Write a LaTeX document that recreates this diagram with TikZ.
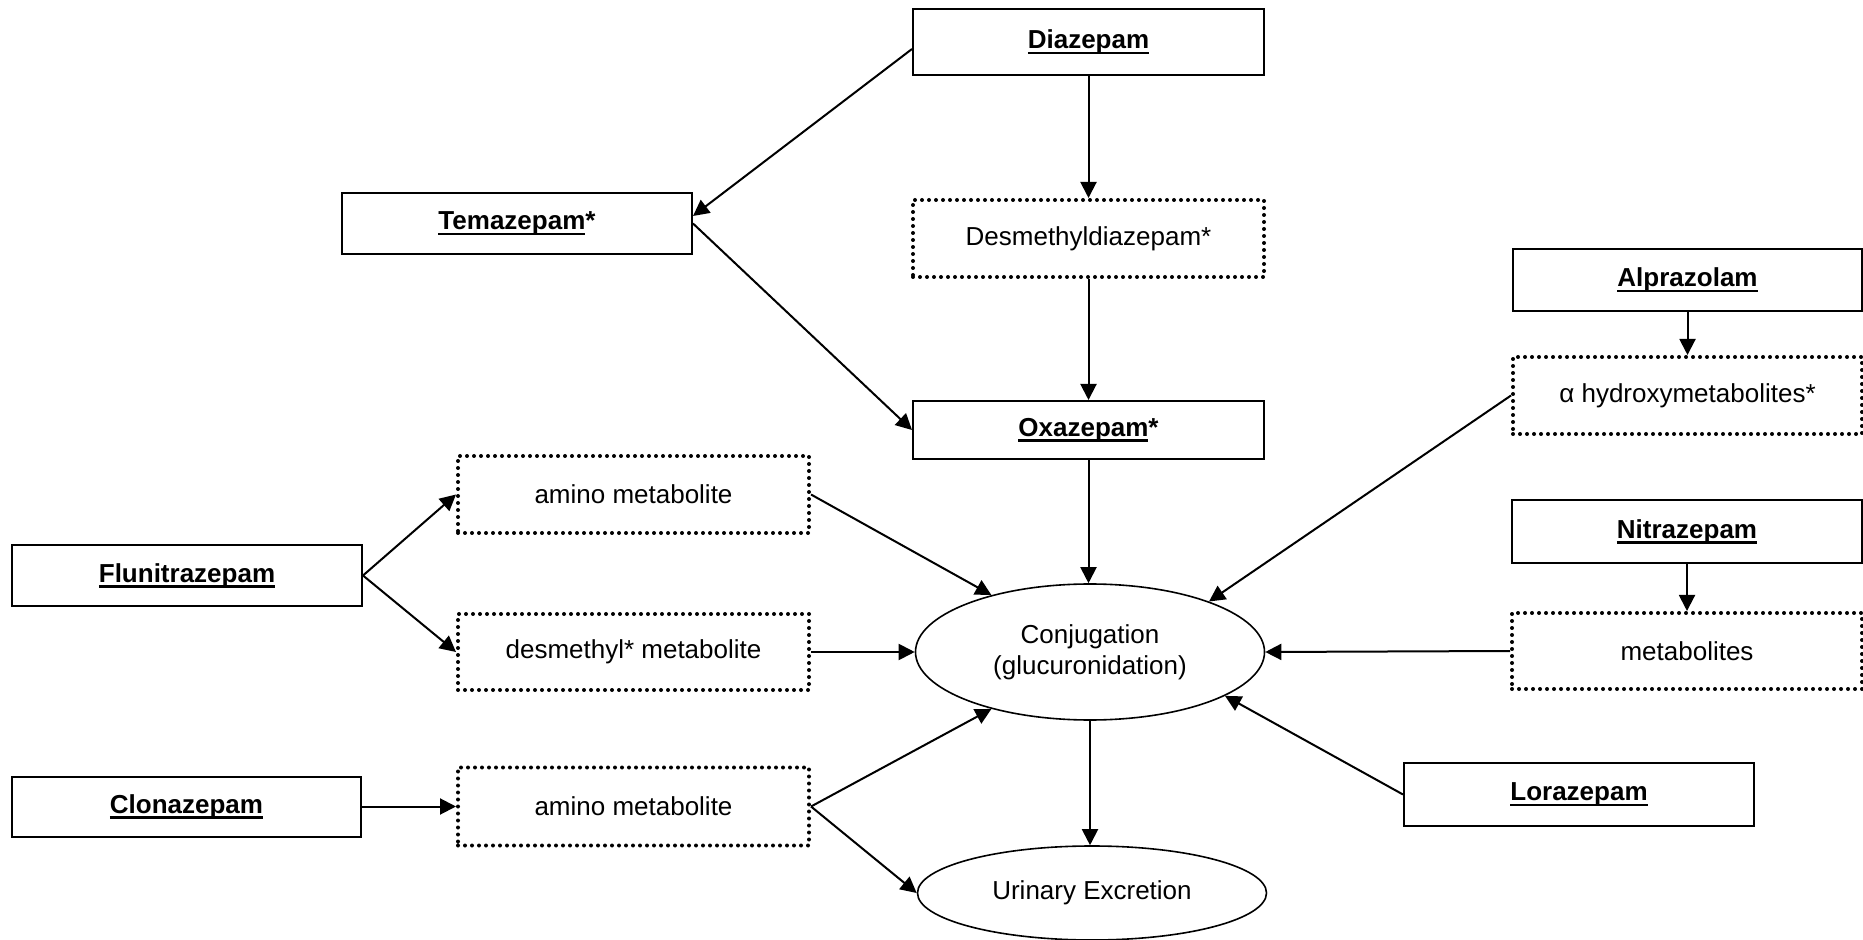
\documentclass[tikz,border=0pt]{standalone}
\usepackage{fontspec}
\setmainfont{Liberation Sans}
\usetikzlibrary{shapes.geometric,arrows.meta}
\newcommand{\pxu}{0.5pt}
\newcommand{\bu}[1]{\setbox0\hbox{\textbf{#1}}\leavevmode\rlap{\rule[-2.9pt]{\wd0}{1.4pt}}\box0}
\tikzset{
 base/.style={font=\fontsize{13}{15.6}\selectfont, inner sep=0pt, align=center},
 solidbox/.style={base, draw, rectangle, line width=1pt},
 dotbox/.style={base, draw, rectangle, line width=2pt, line cap=round, dash pattern=on 0pt off 3.5pt},
 oval/.style={base, draw, ellipse, line width=0.8pt},
 arr/.style={line width=1pt, -{Triangle[length=8pt,width=8pt]}},
}
\begin{document}
\begin{tikzpicture}[x=0.5pt,y=-0.5pt]
\useasboundingbox (0,0) rectangle (1863,940);
% nodes
\node[solidbox, minimum width=351*\pxu, minimum height=66*\pxu] (diaz) at (1088.5,42) {\bu{Diazepam}};
\node[dotbox, minimum width=351*\pxu, minimum height=77*\pxu] (desm) at (1088.5,238.5) {Desmethyldiazepam*};
\node[solidbox, minimum width=351*\pxu, minimum height=58*\pxu] (oxaz) at (1088.5,430) {\bu{Oxazepam}\textbf{*}};
\node[solidbox, minimum width=350*\pxu, minimum height=61*\pxu] (tema) at (517,223.5) {\bu{Temazepam}\textbf{*}};
\node[solidbox, minimum width=350*\pxu, minimum height=61*\pxu] (flun) at (187,575.5) {\bu{Flunitrazepam}};
\node[dotbox, minimum width=351*\pxu, minimum height=77*\pxu] (amino1) at (633.5,494.5) {amino metabolite};
\node[dotbox, minimum width=351*\pxu, minimum height=76*\pxu] (desmet) at (633.5,652) {desmethyl* metabolite};
\node[solidbox, minimum width=349*\pxu, minimum height=60*\pxu] (clon) at (186.5,806.5) {\bu{Clonazepam}};
\node[dotbox, minimum width=351*\pxu, minimum height=78*\pxu] (amino2) at (633.5,806.5) {amino metabolite};
\node[solidbox, minimum width=349*\pxu, minimum height=62*\pxu] (alpr) at (1687.5,280) {\bu{Alprazolam}};
\node[dotbox, minimum width=349*\pxu, minimum height=77*\pxu] (ahyd) at (1687.5,395.5) {α hydroxymetabolites*};
\node[solidbox, minimum width=350*\pxu, minimum height=63*\pxu] (nitr) at (1687,531.5) {\bu{Nitrazepam}};
\node[dotbox, minimum width=350*\pxu, minimum height=76*\pxu] (metab) at (1687,651) {metabolites};
\node[solidbox, minimum width=350*\pxu, minimum height=63*\pxu] (lora) at (1579,794.5) {\bu{Lorazepam}};
\node[oval, minimum width=349*\pxu, minimum height=136*\pxu] (conj) at (1090,652) {Conjugation\\(glucuronidation)};
\node[oval, minimum width=349*\pxu, minimum height=94*\pxu] (urin) at (1092,893) {Urinary Excretion};
% connectors
\draw[arr] ([yshift=-3.5pt]diaz.west) -- ([yshift=3.75pt]tema.east);
\draw[arr] (tema.east) -- (oxaz.west);
\draw[arr] (diaz.south) -- (desm.north);
\draw[arr] (desm.south) -- (oxaz.north);
\draw[arr] (oxaz.south) -- (oxaz.south |- conj.north);
\draw[arr] (flun.east) -- (amino1.west);
\draw[arr] (flun.east) -- (desmet.west);
\draw[arr] (amino1.east) -- (conj.150);
\draw[arr] (desmet.east) -- (conj.west);
\draw[arr] (clon.east) -- (amino2.west);
\draw[arr] (amino2.east) -- (conj.210);
\draw[arr] (amino2.east) -- (urin.west);
\draw[arr] (alpr.south) -- (ahyd.north);
\draw[arr] (ahyd.west) -- (conj.23);
\draw[arr] (nitr.south) -- (metab.north);
\draw[arr] (metab.west) -- (conj.east);
\draw[arr] (lora.west) -- (conj.-18);
\draw[arr] (conj.south) -- (conj.south |- urin.north);
\end{tikzpicture}
\end{document}
